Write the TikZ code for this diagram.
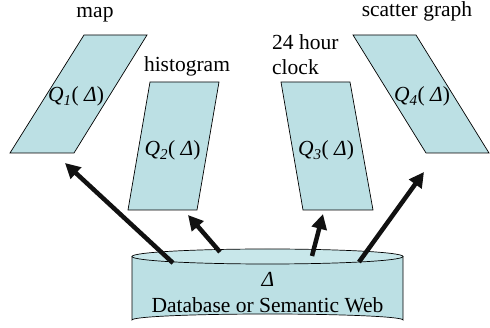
\documentclass[tikz,border=0pt]{standalone}
\usepackage{fontspec}
\setmainfont{Liberation Serif}[Ligatures=TeX]
\newfontfamily\tnr{Liberation Serif}
\usetikzlibrary{arrows.meta}
\definecolor{qfill}{RGB}{188,224,228}
\definecolor{qtop}{RGB}{200,231,234}
\definecolor{arr}{RGB}{17,17,17}
\tikzset{
  panel/.style={fill=qfill,draw=black,line width=0.7pt,line join=miter},
  lbl/.style={font=\tnr\fontsize{21.5}{25}\selectfont,inner sep=0pt,anchor=base},
  qlbl/.style={font=\tnr\fontsize{21.5}{23}\selectfont,inner sep=0pt,anchor=base},
  bigarrow/.style={draw=arr,line width=4.5pt,-{Triangle[length=15pt,width=15pt]}}
}
\newcommand{\qq}[1]{\textit{Q}\textsubscript{\textit{#1}}( \textit{Δ})}
\begin{document}
\begin{tikzpicture}[x=1pt,y=-1pt]
\useasboundingbox (0,0) rectangle (490,328);
% panels
\path[panel] (84,35) -- (147,35) -- (74,153) -- (10,153) -- cycle;
\path[panel] (150,82) -- (219,82) -- (197,210) -- (128,210) -- cycle;
\path[panel] (281,82) -- (350,82) -- (373,210) -- (303,210) -- cycle;
\path[panel] (353,35) -- (416,35) -- (489,153) -- (426,153) -- cycle;
\node[qlbl] (q1) at (76,102) {\qq{1}};
\node[qlbl] (q2) at (172.5,156) {\qq{2}};
\node[qlbl] (q3) at (326,156) {\qq{3}};
\node[qlbl] (q4) at (422,102) {\qq{4}};
% labels
\node[lbl] (lmap) at (95,18) {map};
\node[lbl] (lhist) at (187,72) {histogram};
\node[lbl,anchor=base west] (lhour) at (272,50) {24 hour};
\node[lbl,anchor=base west] (lclock) at (272,75) {clock};
\node[lbl] (lscat) at (417,17) {scatter graph};
% cylinder
\path[fill=qfill,draw=black,line width=0.7pt] (132,256.5) -- (132,320) arc[start angle=180,end angle=360,x radius=135.5,y radius=6] -- (403,256.5) -- cycle;
\path[fill=qtop,draw=black,line width=0.7pt] (267.5,256.5) ellipse[x radius=135.5,y radius=7.5];
\node[qlbl] (delta) at (268,287) {\textit{Δ}};
\node[lbl] (db) at (267.5,313) {Database or Semantic Web};
% arrow endpoints
\coordinate (s1) at (173,263);
\coordinate (t1) at (65,163);
\coordinate (s2) at (220,252);
\coordinate (t2) at (188,215);
\coordinate (s3) at (312,256);
\coordinate (t3) at (323,214);
\coordinate (s4) at (359,262);
\coordinate (t4) at (424,172);
\draw[bigarrow] (s1) -- (t1);
\draw[bigarrow] (s2) -- (t2);
\draw[bigarrow] (s3) -- (t3);
\draw[bigarrow] (s4) -- (t4);
\end{tikzpicture}
\end{document}
